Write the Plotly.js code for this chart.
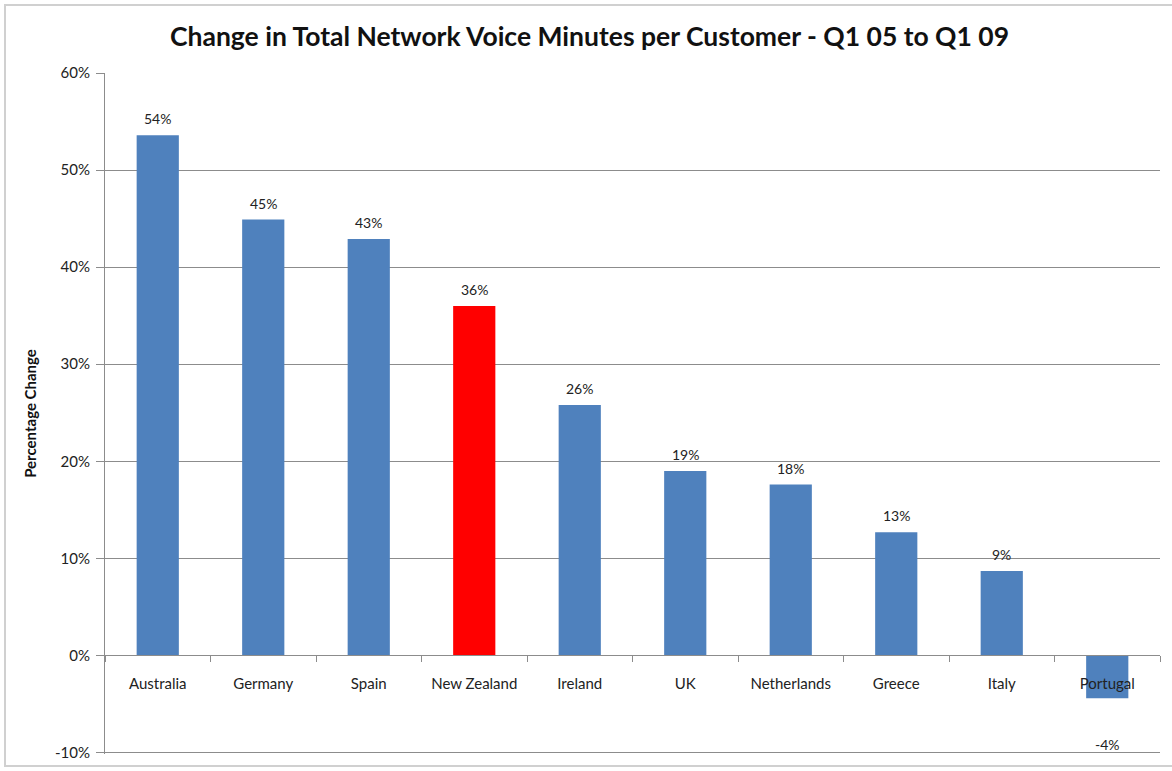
<!DOCTYPE html>
<html>
<head>
<meta charset="utf-8">
<script src="https://cdn.plot.ly/plotly-3.0.1.min.js"></script>
<style>
  html, body { margin: 0; padding: 0; background: #fff; overflow: hidden; }
  #wrap { position: relative; width: 1172px; height: 771px; }
  #chart { width: 1172px; height: 771px; }
  #frame { position: absolute; left: 4px; top: 4px; width: 1168px; height: 763px;
           border-top: 2px solid #d0d0d0; border-left: 2px solid #d0d0d0; border-bottom: 2px solid #d0d0d0;
           pointer-events: none; box-sizing: border-box; }
</style>
</head>
<body>
<div id="wrap">
  <div id="chart"></div>
  <div id="frame"></div>
</div>
<script>
const countries = ["Australia", "Germany", "Spain", "New Zealand", "Ireland", "UK", "Netherlands", "Greece", "Italy", "Portugal"];
const changes = [0.536, 0.449, 0.429, 0.360, 0.258, 0.190, 0.176, 0.127, 0.087, -0.044];
const highlight = "New Zealand";
const yTicks = [-0.1, 0, 0.1, 0.2, 0.3, 0.4, 0.5, 0.6];
const yTickText = ["-10%", "0%", "10%", "20%", "30%", "40%", "50%", "60%"];

const yRange = [-0.1015, 0.6];
const FONT = "Lato, 'Open Sans', sans-serif";

const trace = {
  type: "bar",
  x: countries,
  y: changes,
  marker: { color: countries.map(c => c === highlight ? "#FF0000" : "#4F81BD") },
  width: 0.4,
  hoverinfo: "x+y"
};

const labels = countries.map((c, i) => {
  const v = changes[i];
  return {
    x: c, y: v, xref: "x", yref: "y",
    text: Math.round(v * 100) + "%",
    showarrow: false,
    yanchor: v >= 0 ? "bottom" : "top",
    yshift: v >= 0 ? 6 : -36,
    font: { family: FONT, size: 14, color: "#222" }
  };
});

const layout = {
  width: 1172,
  height: 771,
  margin: { l: 105, r: 12, t: 73, b: 17 },
  paper_bgcolor: "#fff",
  plot_bgcolor: "#fff",
  showlegend: false,
  title: {
    text: "<b>Change in Total Network Voice Minutes per Customer - Q1 05 to Q1 09</b>",
    font: { family: FONT, size: 26.5, color: "#111" },
    x: 0.503, xanchor: "center",
    y: 0.952, yanchor: "middle"
  },
  xaxis: {
    type: "category",
    anchor: "free",
    position: (0 - yRange[0]) / (yRange[1] - yRange[0]),
    showline: true,
    linecolor: "#8c8c8c",
    linewidth: 1,
    ticks: "outside",
    tickson: "boundaries",
    ticklen: 6,
    tickcolor: "#8c8c8c",
    ticklabelstandoff: 15,
    tickfont: { family: FONT, size: 15, color: "#222" },
    showgrid: false,
    zeroline: false,
    fixedrange: true
  },
  yaxis: {
    range: yRange,
    tickmode: "array",
    tickvals: yTicks,
    ticktext: yTickText,
    ticks: "outside",
    ticklen: 8,
    tickcolor: "#8c8c8c",
    ticklabelstandoff: 3,
    tickfont: { family: FONT, size: 15, color: "#222" },
    showgrid: true,
    gridcolor: "#8c8c8c",
    gridwidth: 1,
    showline: true,
    linecolor: "#8c8c8c",
    zeroline: false,
    title: {
      text: "<b>Percentage Change</b>",
      font: { family: FONT, size: 15, color: "#111" },
      standoff: 14
    },
    fixedrange: true
  },
  annotations: labels
};

Plotly.newPlot("chart", [trace], layout, { displayModeBar: false, staticPlot: true });
</script>
</body>
</html>
